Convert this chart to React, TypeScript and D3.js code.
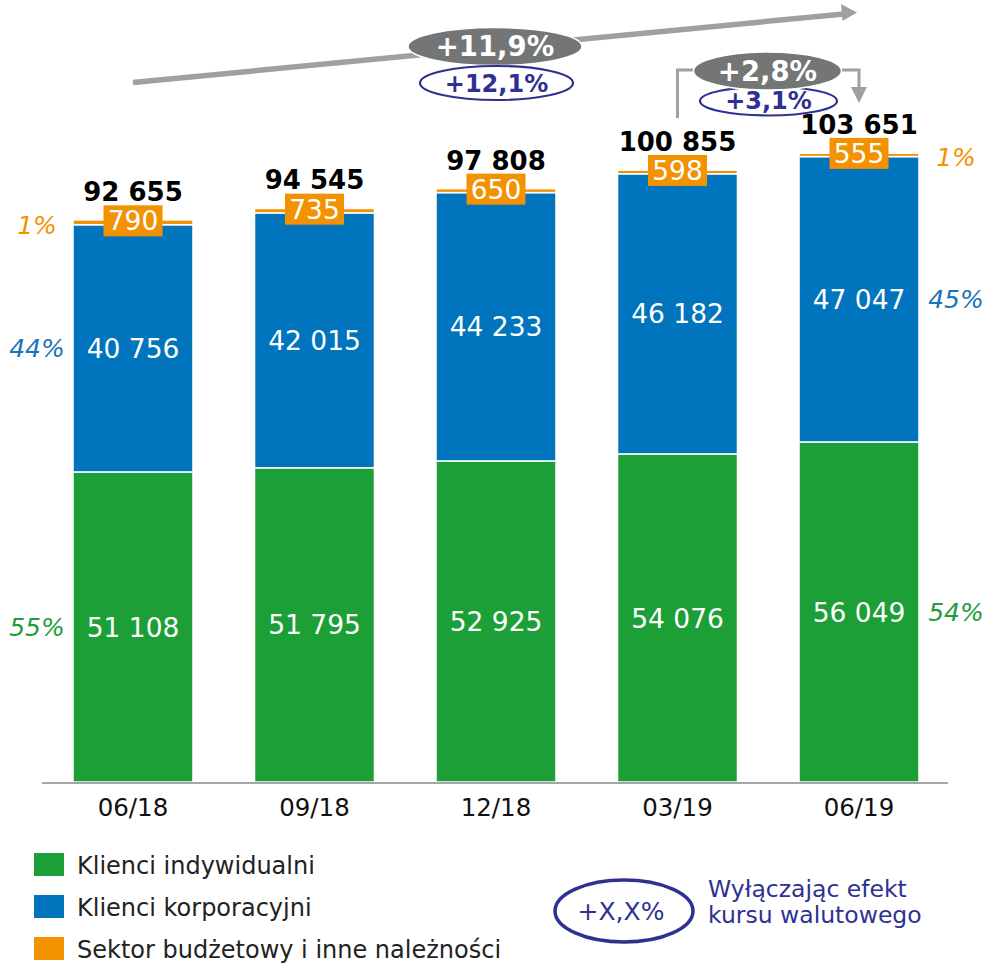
import React from 'react';
import * as d3 from 'd3';

const categories = ['06/18', '09/18', '12/18', '03/19', '06/19'];
const individual = [51108, 51795, 52925, 54076, 56049];
const corporate = [40756, 42015, 44233, 46182, 47047];
const budget = [790, 735, 650, 598, 555];
const totals = [92655, 94545, 97808, 100855, 103651];
const firstShares = ['55%', '44%', '1%'];
const lastShares = ['54%', '45%', '1%'];
const growthYear = ['+11,9%', '+12,1%'];
const growthQuarter = ['+2,8%', '+3,1%'];
const legendLabels = ['Klienci indywidualni', 'Klienci korporacyjni', 'Sektor budżetowy i inne należności'];
const noteLabel = '+X,X%';
const noteText = ['Wyłączając efekt', 'kursu walutowego'];

const W = 986;
const H = 963;
const FONT = '"DejaVu Sans", Verdana, sans-serif';
const GREEN = '#1c9f36';
const BLUE = '#0074bc';
const ORANGE = '#f39200';
const TXT_GREEN = '#1f9d3a';
const TXT_BLUE = '#1a75bb';
const NAVY = '#2e3192';
const GRAY_ARROW = '#a0a0a0';
const GRAY_BUBBLE = '#737675';

const fmt = (v: number) => d3.format(',')(v).replace(/,/g, ' ');

export default function App() {
  const x = d3.scaleBand<string>()
    .domain(categories)
    .range([42.25, 949.75])
    .paddingInner(0.339)
    .paddingOuter(0.1695);
  const y = d3.scaleLinear().domain([0, 110000]).range([782, 114.7]);
  const bw = x.bandwidth();
  const cx = (i: number) => (x(categories[i]) as number) + bw / 2;

  const series = [individual, corporate, budget];
  const colors = [GREEN, BLUE, ORANGE];
  const shareColors = [TXT_GREEN, TXT_BLUE, ORANGE];
  const stacked = categories.map((_, i) => {
    let acc = 0;
    return series.map((s) => {
      const y0 = acc;
      acc += s[i];
      return [y0, acc];
    });
  });

  const last = categories.length - 1;
  const x1 = cx(0);
  const x5 = cx(last);
  const x4 = cx(last - 1);

  return (
    <svg width={W} height={H} style={{ position: 'absolute', left: 0, top: 0, background: '#fff' }} fontFamily={FONT}>
      {/* bars */}
      {categories.map((c, i) => (
        <g key={c}>
          {stacked[i].map(([a, b], k) => (
            <rect key={k} x={x(c)} y={y(b)} width={bw} height={y(a) - y(b)} fill={colors[k]} stroke="#fff" strokeWidth={1.5} />
          ))}
        </g>
      ))}
      {/* axis */}
      <line x1={42} x2={948} y1={783} y2={783} stroke="#a6a6a6" strokeWidth={2} />
      {categories.map((c, i) => (
        <text key={c} x={cx(i)} y={816} textAnchor="middle" fontSize={24.5} fill="#111">{c}</text>
      ))}
      {/* segment labels */}
      {categories.map((c, i) => {
        const [g, b, o] = stacked[i];
        const om = (y(o[0]) + y(o[1])) / 2 - 1.5;
        return (
          <g key={c}>
            <text x={cx(i)} y={(y(g[0]) + y(g[1])) / 2} dy="0.36em" textAnchor="middle" fontSize={26.5} fill="#fff">{fmt(individual[i])}</text>
            <text x={cx(i)} y={(y(b[0]) + y(b[1])) / 2} dy="0.36em" textAnchor="middle" fontSize={26.5} fill="#fff">{fmt(corporate[i])}</text>
            <rect x={cx(i) - 29.5} y={om - 15.5} width={59} height={31} fill={ORANGE} />
            <text x={cx(i)} y={om} dy="0.36em" textAnchor="middle" fontSize={26.5} fill="#fff">{fmt(budget[i])}</text>
            <text x={cx(i)} y={y(o[1]) - 19} textAnchor="middle" fontSize={26} fontWeight="bold" fill="#000">{fmt(totals[i])}</text>
          </g>
        );
      })}
      {/* share labels */}
      {stacked[0].map(([a, b], k) => (
        <text key={'l' + k} x={37} y={(y(a) + y(b)) / 2 + (k === 2 ? 3 : 0)} dy="0.36em" textAnchor="middle" fontSize={25} fontStyle="italic" fill={shareColors[k]}>{firstShares[k]}</text>
      ))}
      {stacked[last].map(([a, b], k) => (
        <text key={'r' + k} x={956} y={(y(a) + y(b)) / 2 + (k === 2 ? 2 : 0)} dy="0.36em" textAnchor="middle" fontSize={25} fontStyle="italic" fill={shareColors[k]}>{lastShares[k]}</text>
      ))}
      {/* year growth arrow */}
      <line x1={x1} y1={82.5} x2={x5 - 15} y2={82.5 - (70 * (x5 - 15 - x1)) / (x5 - x1)} stroke={GRAY_ARROW} strokeWidth={5.5} />
      <polygon points={`${x5 - 2},${12.5} ${x5 - 18},${4} ${x5 - 16.5},${21}`} fill={GRAY_ARROW} />
      <ellipse cx={495} cy={46.5} rx={87} ry={19} fill={GRAY_BUBBLE} stroke="#fff" strokeWidth={1.5} />
      <text x={495} y={55.5} textAnchor="middle" fontSize={27.5} fontWeight="bold" fill="#fff">{growthYear[0]}</text>
      <ellipse cx={496.5} cy={83} rx={76.5} ry={17} fill="#fff" stroke={NAVY} strokeWidth={2.2} />
      <text x={496.5} y={92} textAnchor="middle" fontSize={24} fontWeight="bold" fill={NAVY}>{growthYear[1]}</text>
      {/* quarter growth bracket */}
      <path d={`M${x4},118 V70 H${x4 + 18}`} fill="none" stroke={GRAY_ARROW} strokeWidth={3} />
      <path d={`M${x5 - 18},70 H${x5} V88`} fill="none" stroke={GRAY_ARROW} strokeWidth={3} />
      <polygon points={`${x5 - 8},${87} ${x5 + 8},${87} ${x5},${103}`} fill={GRAY_ARROW} />
      <ellipse cx={768.5} cy={101} rx={68.5} ry={14.5} fill="#fff" stroke={NAVY} strokeWidth={2.2} />
      <text x={768.5} y={109} textAnchor="middle" fontSize={24} fontWeight="bold" fill={NAVY}>{growthQuarter[1]}</text>
      <ellipse cx={767.5} cy={71} rx={74} ry={19} fill={GRAY_BUBBLE} stroke="#fff" strokeWidth={1.5} />
      <text x={767.5} y={80.5} textAnchor="middle" fontSize={27.5} fontWeight="bold" fill="#fff">{growthQuarter[0]}</text>
      {/* legend */}
      {legendLabels.map((l, k) => (
        <g key={l}>
          <rect x={34} y={853 + k * 42} width={30} height={23} fill={colors[k]} />
          <text x={77} y={874 + k * 42} fontSize={24} fill="#222">{l}</text>
        </g>
      ))}
      <ellipse cx={624} cy={911} rx={69} ry={31} fill="none" stroke={NAVY} strokeWidth={3.5} />
      <text x={621} y={920} textAnchor="middle" fontSize={25} fill={NAVY}>{noteLabel}</text>
      {noteText.map((t, k) => (
        <text key={t} x={708} y={897 + k * 26} fontSize={23.5} fill={NAVY}>{t}</text>
      ))}
    </svg>
  );
}
